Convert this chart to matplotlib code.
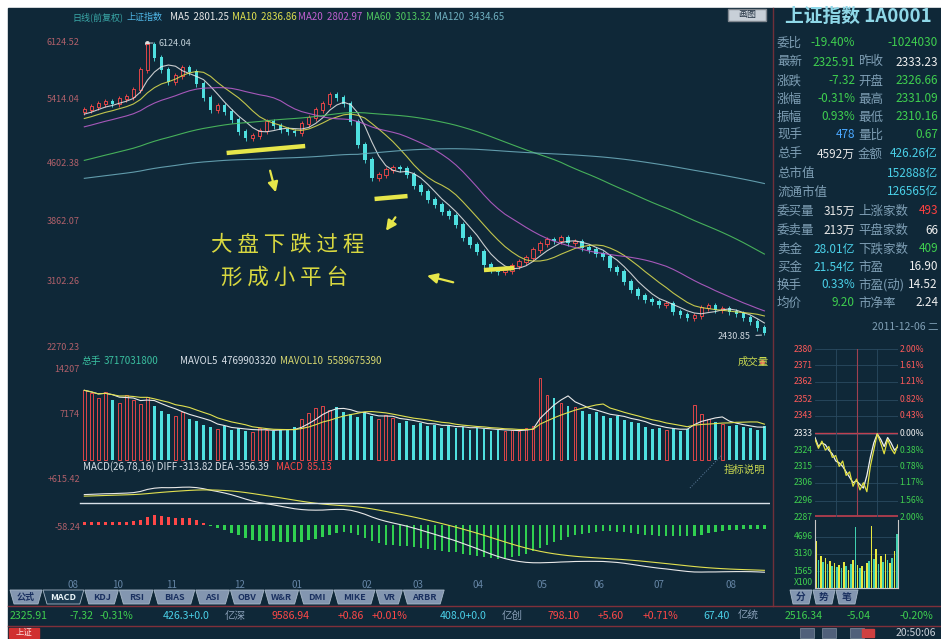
import matplotlib
matplotlib.use("Agg")
import matplotlib.pyplot as plt
import numpy as np
import pandas as pd
from matplotlib.patches import Rectangle, Polygon

plt.rcParams["font.family"] = ["Noto Sans CJK SC", "DejaVu Sans"]
plt.rcParams["axes.unicode_minus"] = False

# ---------------- data ----------------
# closes before the visible window, only used to warm up the moving averages / MACD
WARMUP_CLOSE = [3530, 3560, 3575, 3610, 3620, 3655, 3690, 3680, 3720, 3745,
                3770, 3790, 3785, 3830, 3860, 3875, 3900, 3940, 3930, 3965,
                3990, 4020, 4010, 4050, 4080, 4095, 4130, 4150, 4140, 4185,
                4210, 4235, 4250, 4240, 4290, 4310, 4340, 4330, 4370, 4400,
                4420, 4445, 4440, 4480, 4510, 4525, 4560, 4575, 4570, 4610,
                4640, 4660, 4680, 4670, 4720, 4740, 4765, 4760, 4800, 4830,
                4850, 4870, 4865, 4905, 4930, 4950, 4980, 4975, 5010, 5040,
                5060, 5080, 5075, 5115, 5140, 5160, 5190, 5185, 5220, 5250]
WEEK_CLOSE = [5276, 5314, 5352, 5378, 5352, 5416, 5441, 5529, 5782, 6099,
              5934, 5782, 5631, 5707, 5808, 5757, 5605, 5428, 5276, 5327,
              5251, 5150, 4998, 4922, 4948, 5011, 5125, 5074, 5024, 4998,
              4986, 5099, 5175, 5276, 5352, 5466, 5428, 5352, 5125, 4834,
              4644, 4416, 4454, 4517, 4543, 4530, 4454, 4315, 4239, 4138,
              4075, 3986, 3936, 3822, 3657, 3569, 3480, 3316, 3252, 3227,
              3240, 3303, 3354, 3404, 3505, 3581, 3632, 3619, 3657, 3594,
              3607, 3531, 3505, 3455, 3417, 3278, 3227, 3101, 2999, 2924,
              2873, 2848, 2810, 2822, 2721, 2683, 2645, 2671, 2772, 2797,
              2746, 2759, 2721, 2696, 2645, 2595, 2519, 2455]
WEEK_VOL = [11000, 10500, 9800, 10800, 9500, 9000, 10200, 9400, 8800, 9900,
            8600, 7800, 7200, 6900, 7600, 6500, 6200, 5600, 5200, 4900,
            5300, 4700, 5000, 4600, 4400, 5100, 4800, 4500, 4900, 4700,
            5200, 6500, 7400, 8200, 8600, 7900, 8400, 7600, 7200, 6800,
            7500, 6900, 6400, 7100, 6600, 5800, 6200, 5500, 5900, 5300,
            5600, 5100, 5400, 5000, 5200, 4800, 5100, 4900, 4600, 4700,
            4500, 4800, 4600, 5000, 5400, 13000, 10200, 9800, 9000, 8600,
            8300, 7800, 7200, 7600, 6900, 6600, 7000, 6300, 6000, 5800,
            5200, 4900, 5100, 4700, 5000, 4600, 4900, 8700, 7200, 6400,
            6000, 5700, 5400, 5600, 5200, 5000, 4800, 5300]
PEAK_IDX, PEAK_HIGH = 9, 6124.04
LAST_LOW = 2430.85

MA_PERIODS = [5, 10, 20, 60, 120]
MONTH_LABELS = ["08", "10", "11", "12", "01", "02", "03", "04", "05", "06", "07", "08"]
MONTH_POS = [-1.6, 4.7, 12.4, 22.2, 30.4, 40.3, 47.6, 56.2, 65.3, 73.4, 81.9, 92.2]
PRICE_LABELS = [6124.52, 5414.04, 4602.38, 3862.07, 3102.26, 2270.23]
VOL_LABELS = [14207, 7174]

# intraday (2011-12-06)
PREV_CLOSE = 2333.23
INTRA_PRICE = [2331, 2326, 2328, 2327, 2324, 2322, 2318, 2317, 2315, 2312, 2309, 2306, 2307,
               2305, 2303, 2310, 2320, 2328, 2333, 2330, 2326, 2331, 2328, 2324, 2326]
INTRA_AVG = [2330, 2325, 2329, 2324, 2326, 2320, 2321, 2315, 2318, 2310, 2312, 2304, 2308,
             2302, 2306, 2301, 2315, 2324, 2333, 2328, 2322, 2330, 2325, 2322, 2327]
INTRA_VOL = [4300, 2600, 2900, 2400, 2800, 2200, 2500, 2000, 2300, 1900, 2100, 1800,
             2400, 2000, 1700, 2200, 2600, 5600, 2100, 1800, 2000, 1600, 2300, 2500,
             5700, 2700, 3600, 2200, 2900, 2400, 3100, 2600, 2300, 2800, 3400, 5000]
INTRA_LEFT = ["2380", "2371", "2362", "2352", "2343", "2333", "2324", "2315", "2306", "2296", "2287"]
INTRA_RIGHT = ["2.00%", "1.61%", "1.21%", "0.82%", "0.43%", "0.00%", "0.38%", "0.78%", "1.17%", "1.56%", "2.00%"]
INTRA_VOL_LABELS = [4696, 3130, 1565]

INFO_ROWS = [
    ("委比", "-19.40%", "", "-1024030"),
    ("最新", "2325.91", "昨收", "2333.23"),
    ("涨跌", "-7.32", "开盘", "2326.66"),
    ("涨幅", "-0.31%", "最高", "2331.09"),
    ("振幅", "0.93%", "最低", "2310.16"),
    ("现手", "478", "量比", "0.67"),
    ("总手", "4592万", "金额", "426.26亿"),
    ("总市值", "", "", "152888亿"),
    ("流通市值", "", "", "126565亿"),
    ("委买量", "315万", "上涨家数", "493"),
    ("委卖量", "213万", "平盘家数", "66"),
    ("卖金", "28.01亿", "下跌家数", "409"),
    ("买金", "21.54亿", "市盈", "16.90"),
    ("换手", "0.33%", "市盈(动)", "14.52"),
    ("均价", "9.20", "市净率", "2.24"),
]
INFO_COLORS = [
    ("#3fcf4f", "#3fcf4f"), ("#3fcf4f", "#f0f0f0"), ("#3fcf4f", "#3fcf4f"),
    ("#3fcf4f", "#3fcf4f"), ("#3fcf4f", "#3fcf4f"), ("#4aa8ff", "#3fcf4f"),
    ("#e8e8e8", "#4ad0e8"), ("", "#4ad0e8"), ("", "#4ad0e8"),
    ("#e8e8e8", "#ff4040"), ("#e8e8e8", "#f0f0f0"), ("#4ad0e8", "#3fcf4f"),
    ("#4ad0e8", "#f0f0f0"), ("#4ad0e8", "#f0f0f0"), ("#3fcf4f", "#f0f0f0"),
]

TABS = ["公式", "MACD", "KDJ", "RSI", "BIAS", "ASI", "OBV", "W&R", "DMI", "MIKE", "VR", "ARBR"]
STATUS = [("2325.91", 10, "#3fcf4f"), ("-7.32", 70, "#3fcf4f"), ("-0.31%", 100, "#3fcf4f"),
          ("426.3+0.0", 163, "#4ad0e8"), ("亿深", 225, "#8aa0b8"), ("9586.94", 272, "#ff4848"),
          ("+0.86", 338, "#ff4848"), ("+0.01%", 372, "#ff4848"), ("408.0+0.0", 440, "#4ad0e8"),
          ("亿创", 502, "#8aa0b8"), ("798.10", 548, "#ff4848"), ("+5.60", 598, "#ff4848"),
          ("+0.71%", 643, "#ff4848"), ("67.40", 703, "#4ad0e8"), ("亿统", 738, "#8aa0b8"),
          ("2516.34", 785, "#3fcf4f"), ("-5.04", 847, "#3fcf4f"), ("-0.20%", 900, "#3fcf4f")]

# ---------------- style ----------------
W, H = 941, 639
BG = "#0f2838"
UP = "#ff4a4a"
DOWN = "#4fe0e0"
MA_COLORS = ["#e8e8e8", "#e0e050", "#c060d0", "#50c860", "#6fb0c0"]
AXLBL = "#b0606a"
GRAYBLUE = "#7f9fb5"
YEL = "#e6e64a"
WICK = 40

fig = plt.figure(figsize=(W / 100, H / 100), dpi=100, facecolor="white")


def px_axes(x0, y0, x1, y1, z=1):
    a = fig.add_axes([x0 / W, 1 - y1 / H, (x1 - x0) / W, (y1 - y0) / H])
    a.set_zorder(z)
    a.set_facecolor("none")
    for s in a.spines.values():
        s.set_visible(False)
    a.set_xticks([])
    a.set_yticks([])
    return a


bg = px_axes(0, 0, W, H, z=0)
bg.set_xlim(0, W)
bg.set_ylim(H, 0)
bg.add_patch(Rectangle((8, 8), W - 8, H - 8, color=BG))

# ---------------- derived series ----------------
full = pd.Series(WARMUP_CLOSE + WEEK_CLOSE, dtype=float)
n0 = len(WARMUP_CLOSE)
mas = [full.rolling(p, min_periods=1).mean().values[n0:] for p in MA_PERIODS]
diff_s = full.ewm(span=26, adjust=False).mean() - full.ewm(span=78, adjust=False).mean()
dea_s = diff_s.ewm(span=16, adjust=False).mean()
diff = diff_s.values[n0:]
dea = dea_s.values[n0:]
hist = 2 * (diff - dea)

close = np.array(WEEK_CLOSE, dtype=float)
opens = np.r_[WARMUP_CLOSE[-1], close[:-1]]
x = np.arange(len(close))
up = close >= opens
body_lo = np.minimum(opens, close)
body_hi = np.maximum(opens, close)
high = body_hi + WICK
low = body_lo - WICK
high[PEAK_IDX] = PEAK_HIGH
low[-1] = LAST_LOW
vol = np.array(WEEK_VOL, dtype=float)
vol_s = pd.Series(vol)
mavol5 = vol_s.rolling(5, min_periods=1).mean().values
mavol10 = vol_s.rolling(10, min_periods=1).mean().values
XLIM = (-10.6, 97.8)

# ---------------- main K-line panel ----------------
ax = px_axes(10, 22, 770, 358, z=2)
ax.set_xlim(*XLIM)
ax.set_ylim(2139, 6390)
ax.vlines(x, low, high, colors=np.where(up, UP, DOWN), lw=0.6, zorder=2)
ax.bar(x[up], (body_hi - body_lo)[up] + 8, bottom=body_lo[up], width=0.5,
       facecolor=BG, edgecolor=UP, lw=0.6, zorder=3)
ax.bar(x[~up], (body_hi - body_lo)[~up] + 8, bottom=body_lo[~up], width=0.5,
       color=DOWN, lw=0, zorder=3)
for m, c in zip(mas, MA_COLORS):
    ax.plot(x, m, color=c, lw=0.8, alpha=0.85, zorder=4)
for v in PRICE_LABELS:
    ax.text(-0.7, v, f"{v:.2f}", color=AXLBL, fontsize=6.5, ha="right", va="center")
ax.annotate(f"{PEAK_HIGH:.2f}", xy=(PEAK_IDX, PEAK_HIGH), xytext=(PEAK_IDX + 1.6, PEAK_HIGH),
            color="#c0d0d8", fontsize=6.5, va="center",
            arrowprops=dict(arrowstyle="-", color="#c0d0d8", lw=0.7))
ax.plot(PEAK_IDX, PEAK_HIGH, "o", color="#e0e0e0", ms=2.5)
ax.annotate(f"{LAST_LOW:.2f}", xy=(x[-1], LAST_LOW), xytext=(x[-1] - 2.0, LAST_LOW - 20),
            color="#d0d8e0", fontsize=6.5, va="center", ha="right",
            arrowprops=dict(arrowstyle="-", color="#d0d8e0", lw=0.7))

# hand-drawn notes on the screenshot
for (a0, p0), (a1, p1) in [((20.3, 4733), (31.5, 4821)), ((41.4, 4151), (46.1, 4188)),
                           ((57.0, 3252), (61.3, 3278))]:
    ax.plot([a0, a1], [p0, p1], color=YEL, lw=3.2, solid_capstyle="butt", zorder=6)
for (a0, p0), (a1, p1) in [((26.4, 4543), (27.4, 4201)), ((44.6, 3948), (42.8, 3720)),
                           ((53.0, 3088), (48.5, 3189))]:
    ax.annotate("", xy=(a1, p1), xytext=(a0, p0),
                arrowprops=dict(arrowstyle="-|>,head_width=0.3,head_length=0.6", color=YEL, lw=1.6))
ax.text(29.0, 3569, "大 盘 下 跌 过 程", color="#d8d840", fontsize=15.5, ha="center", va="center")
ax.text(28.5, 3151, "形 成 小 平 台", color="#d8d840", fontsize=15.5, ha="center", va="center")

# ---------------- volume panel ----------------
axv = px_axes(10, 358, 770, 462, z=2)
axv.set_xlim(*XLIM)
axv.set_ylim(-316, 16100)
axv.bar(x[up], vol[up], width=0.4, facecolor=BG, edgecolor=UP, lw=0.6)
axv.bar(x[~up], vol[~up], width=0.4, color=DOWN, lw=0)
axv.plot(x, mavol5, color="#e8e8e8", lw=0.8)
axv.plot(x, mavol10, color="#e0e050", lw=0.8)
for v in VOL_LABELS:
    axv.text(-0.7, v, str(v), color=AXLBL, fontsize=6.5, ha="right", va="center")

# ---------------- MACD panel ----------------
axm = px_axes(10, 462, 770, 576, z=2)
axm.set_xlim(*XLIM)
m_pos = max(diff.max(), dea.max(), hist.max())
m_neg = -min(diff.min(), dea.min(), hist.min())
u = max(m_pos * 1.1 / 63, m_neg * 1.08 / 51)
axm.set_ylim(-51 * u, 63 * u)
axm.bar(x, hist, width=0.35, color=np.where(hist >= 0, "#ff4848", "#30d050"), lw=0)
axm.plot(x, diff, color="#e8e8e8", lw=0.8)
axm.plot(x, dea, color="#e0e050", lw=0.8)
axm.plot([0.092, 1], [0.64, 0.64], transform=axm.transAxes, color="#d8e0e8", lw=1.0)
axm.set_xticks(MONTH_POS)
axm.set_xticklabels(MONTH_LABELS)
axm.tick_params(axis="x", length=0, pad=3, labelsize=7, labelcolor="#6585a5")

# ---------------- intraday mini chart ----------------
axi = px_axes(815, 349, 898, 517, z=2)
axi.set_xlim(0, 240)
axi.set_ylim(2287, 2380)
for l, r in zip(INTRA_LEFT, INTRA_RIGHT):
    v = float(l)
    c = "#ff5a5a" if v > 2334 else ("#f0f0f0" if v == 2333 else "#3fcf4f")
    axi.axhline(v, color="#2a4a60", lw=0.6)
    axi.text(-0.03, v, l, color=c, fontsize=6.2, ha="right", va="center", transform=axi.get_yaxis_transform())
    axi.text(1.02, v, r, color=c, fontsize=6.2, ha="left", va="center", transform=axi.get_yaxis_transform())
axi.axhline(PREV_CLOSE, color="#c04050", lw=1.0)
axi.axhline(2287.5, color="#c04050", lw=1.2)
for xv in (60, 180):
    axi.axvline(xv, color="#2a4a60", lw=0.6)
axi.axvline(120, color="#a04050", lw=0.8)
tx = np.arange(len(INTRA_PRICE)) * 10
axi.plot(tx, INTRA_PRICE, color="#f2f2f2", lw=0.9)
axi.plot(tx, INTRA_AVG, color="#e0e040", lw=0.9)

axiv = px_axes(815, 520, 898, 588, z=2)
axiv.set_xlim(-0.5, len(INTRA_VOL) - 0.5)
axiv.set_ylim(0, 6260)
iv = np.arange(len(INTRA_VOL))
axiv.bar(iv, INTRA_VOL, width=0.7, color=np.where(iv % 2 == 0, "#e8e840", "#40d0b0"), lw=0)
for v in INTRA_VOL_LABELS:
    axiv.axhline(v, color="#2a4a60", lw=0.6, zorder=0)
    axiv.text(-0.03, v, str(v), color="#3fcf4f", fontsize=6.2, ha="right", va="center",
              transform=axiv.get_yaxis_transform())
axiv.text(-0.03, 0.08, "X100", color="#3fcf4f", fontsize=6.2, ha="right", va="center",
          transform=axiv.transAxes)
for s in ("left", "right", "bottom"):
    axiv.spines[s].set_visible(True)
    axiv.spines[s].set_color("#c8c8c8")

# ---------------- overlay: headers, right panel, status bar ----------------
ov = px_axes(0, 0, W, H, z=10)
ov.set_xlim(0, W)
ov.set_ylim(H, 0)


def t(xp, yp, s, c, fs=7, **kw):
    ov.text(xp, yp, s, color=c, fontsize=fs, va="center", **kw)


t(72, 17, "日线(前复权)", "#3aa8a8", 6.5)
t(127, 17, "上证指数", "#50b8e8", 6.5)
hdr = [("MA5", "2801.25"), ("MA10", "2836.86"), ("MA20", "2802.97"), ("MA60", "3013.32"), ("MA120", "3434.65")]
hx = [170, 232, 298, 366, 434]
for (nm, val), xp, c in zip(hdr, hx, MA_COLORS):
    t(xp, 17, f"{nm}  {val}", c, 7)

t(82, 361, "总手", "#3ac0a0", 7)
t(104, 361, "3717031800", "#3ac0a0", 7)
t(180, 361, "MAVOL5  4769903320", "#d8e0e8", 7)
t(280, 361, "MAVOL10  5589675390", "#d8d870", 7)
t(738, 362, "成交量", "#c8d850", 7.5)
ov.plot(762, 362, "o", color="#ff4060", ms=2.5)

t(83, 467, "MACD(26,78,16) DIFF -313.82 DEA -356.39", "#d8e0e8", 7)
t(276, 467, "MACD  85.13", "#ff4848", 7)
t(80, 480, "+615.42", AXLBL, 6.5, ha="right")
t(80, 527, "-58.24", AXLBL, 6.5, ha="right")
t(724, 470, "指标说明", "#c8d850", 7.5)
ov.plot([690, 722], [488, 455], color="#6080a0", lw=0.7, ls=":")

# separators
ov.plot([773, 773], [8, 606], color="#70303a", lw=1.0)
ov.plot([8, W], [606, 606], color="#80303a", lw=1.0)
ov.plot([8, W], [626, 626], color="#80303a", lw=1.0)

# right info panel
t(858, 16, "上证指数 1A0001", "#8fd8e8", 13.5, ha="center", fontweight="bold")
ov.add_patch(Rectangle((728, 9), 38, 12, facecolor="#c8d0d8", edgecolor="#808890"))
t(747, 15, "画图", "#203040", 6.5, ha="center")
row_y = [43, 62, 81, 99, 117, 135, 154, 173, 192, 211, 230, 249, 267, 285, 303]
for (l1, v1, l2, v2), (c1, c2), yp in zip(INFO_ROWS, INFO_COLORS, row_y):
    t(777, yp, l1, GRAYBLUE, 9)
    if v1:
        t(855, yp, v1, c1, 8.5, ha="right")
    if l2:
        t(858, yp, l2, GRAYBLUE, 9)
    t(938, yp, v2, c2, 8.5, ha="right")
t(938, 327, "2011-12-06 二", GRAYBLUE, 7.5, ha="right")

# tabs
xp = 10
for i, name in enumerate(TABS):
    w = 32 if i == 0 else 12 + 7.2 * len(name)
    active = name == "MACD"
    fc = "#1c3a50" if active else "#8396b0"
    ov.add_patch(Polygon([(xp, 590), (xp + w, 590), (xp + w - 4, 604), (xp + 4, 604)],
                         closed=True, facecolor=fc, edgecolor="#a8b8c8", lw=0.6))
    t(xp + w / 2, 597, name, "#e8f4f8" if active else "#1a3060", 6.5, ha="center", fontweight="bold")
    xp += w + 1
xp = 790
for name in ["分", "势", "笔"]:
    ov.add_patch(Polygon([(xp, 590), (xp + 22, 590), (xp + 19, 604), (xp + 3, 604)],
                         closed=True, facecolor="#8396b0", edgecolor="#a8b8c8", lw=0.6))
    t(xp + 11, 597, name, "#1a3060", 7, ha="center", fontweight="bold")
    xp += 23

# status bar
for s, xp, c in STATUS:
    t(xp, 616, s, c, 7.6)
ov.add_patch(Rectangle((9, 628), 30, 10, color="#d03030"))
t(24, 633, "上证", "#ffe0e0", 6, ha="center")
for xp in (800, 822, 850):
    ov.add_patch(Rectangle((xp, 628), 14, 10, facecolor="#50607a", edgecolor="#8090a0", lw=0.5))
ov.add_patch(Rectangle((862, 629), 12, 8, color="#d04040"))
t(936, 633, "20:50:06", "#c8d0d8", 7.5, ha="right")

fig.savefig("out.png", dpi=100, facecolor=fig.get_facecolor())
